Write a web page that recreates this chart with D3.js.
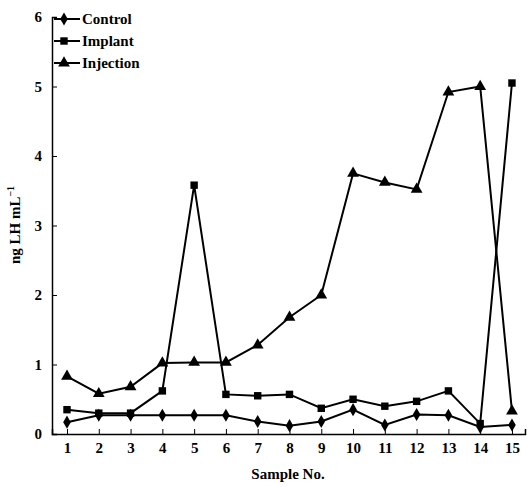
<!DOCTYPE html>
<html><head><meta charset="utf-8">
<script src="https://cdn.jsdelivr.net/npm/d3@7"></script>
<style>body{margin:0;background:#fff}text{font-family:"Liberation Serif",serif;font-weight:bold}</style>
</head><body><svg id="c" width="527" height="487"></svg>
<script>
var samples = d3.range(1, 16);
var control = [0.17,0.27,0.27,0.27,0.27,0.27,0.18,0.12,0.18,0.35,0.13,0.28,0.27,0.1,0.13];
var implant = [0.35,0.3,0.3,0.62,3.58,0.57,0.55,0.57,0.37,0.5,0.4,0.47,0.62,0.15,5.05];
var injection = [0.83,0.58,0.68,1.02,1.03,1.03,1.28,1.68,2.0,3.75,3.62,3.52,4.92,5.0,0.33];
var yTicks = [0,1,2,3,4,5,6];

var svg = d3.select("#c");
var x = d3.scaleLinear().domain([0.528, 15.41]).range([52, 525]);
var y = d3.scaleLinear().domain([0, 6]).range([434, 17]);

svg.append("g").attr("transform","translate(0,434)")
  .call(d3.axisBottom(x).tickValues(samples).tickSize(-5).tickPadding(8).tickFormat(d3.format("d")))
  .call(g=>{g.select(".domain").attr("stroke","#000").attr("stroke-width",1.5);g.selectAll("text").attr("font-size",15).attr("fill","#000");});
svg.append("g").attr("transform","translate(52,0)")
  .call(d3.axisLeft(y).tickValues(yTicks).tickSize(-5).tickPadding(10).tickFormat(d3.format("d")))
  .call(g=>{g.select(".domain").attr("stroke","#000").attr("stroke-width",1.5);g.selectAll("text").attr("font-size",15).attr("fill","#000");});

svg.append("text").attr("x",288).attr("y",479).attr("text-anchor","middle").attr("font-size",15).text("Sample No.");
svg.append("text").attr("transform","translate(20,225) rotate(-90)").attr("text-anchor","middle").attr("font-size",15)
  .html('ng LH mL<tspan dy="-6" font-size="10">−1</tspan>');

var series = [
  {name:"Control", vals:control, shape:d3.symbolDiamond, size:50},
  {name:"Implant", vals:implant, shape:d3.symbolSquare, size:55},
  {name:"Injection", vals:injection, shape:d3.symbolTriangle, size:60}
];
var line = d3.line().x((d,i)=>x(samples[i])).y(d=>y(d));
series.forEach(function(s, k){
  svg.append("path").attr("d", line(s.vals)).attr("fill","none").attr("stroke","#000").attr("stroke-width",2);
  svg.selectAll(null).data(s.vals).enter().append("path")
    .attr("d", d3.symbol(s.shape, s.size))
    .attr("transform",(d,i)=>"translate("+x(samples[i])+","+y(d)+")").attr("fill","#000");
  var ly = 19 + k*22;
  svg.append("line").attr("x1",54).attr("x2",80).attr("y1",ly).attr("y2",ly).attr("stroke","#000").attr("stroke-width",2);
  svg.append("path").attr("d", d3.symbol(s.shape, s.size)).attr("transform","translate(64,"+ly+")");
  svg.append("text").attr("x",82).attr("y",ly+5).attr("font-size",15).text(s.name);
});
</script></body></html>
